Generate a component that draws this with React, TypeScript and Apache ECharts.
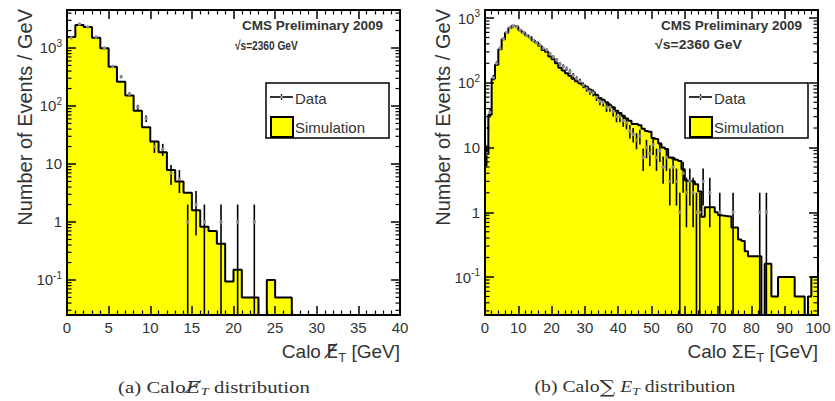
import React, { useEffect, useRef } from 'react';
import * as echarts from 'echarts';

// ---------- data (events / GeV, 1 GeV bins starting at 0) ----------
const metSimulation = [1550, 2500, 2300, 1500, 990, 475, 262, 151, 83, 43, 24.5, 16, 7.9, 5.0, 3.2, 1.6, 0.83, 0.7, 0.42, 0.094, 0.15, 0.05, 0.05, 0, 0.1, 0.05, 0.05];
const metData = [1500, 2600, 2300, 1550, 1000, 480, 320, 160, 95, 61, 20, 18, 7, 5.5, 1, 2, 1, 0, 1, 0, 1, 0, 1];

const setSimulation = [
  8, 32, 115, 190, 330, 470, 590, 700, 760, 740,
  650, 600, 540, 510, 450, 420, 370, 320, 300, 255,
  230, 200, 170, 155, 140, 128, 115, 106, 98, 92,
  86, 78, 72, 65, 58, 54, 50, 45, 42, 37,
  34, 31, 28, 26, 23, 23, 22, 19.5, 18, 17.5,
  14, 13.5, 11.5, 10, 9.5, 7, 6.8, 6.5, 6.2, 4.6,
  3.1, 3.0, 3.0, 2.7, 2.1, 0.85, 1.2, 1.2, 1.2, 1.0,
  0.9, 0.88, 0.87, 0.86, 0.58, 0.58, 0.38, 0.36, 0.25, 0.21,
  0.21, 0.21, 0.21, 0, 0.16, 0.16, 0.05, 0.05, 0.1, 0.1,
  0.1, 0.1, 0.1, 0.05, 0.05, 0.05, 0, 0.05, 0.1, 0.1,
];
const setData = [
  8, 35, 120, 200, 340, 480, 600, 710, 750, 730,
  650, 590, 540, 500, 450, 420, 380, 340, 320, 280,
  250, 225, 195, 180, 165, 150, 130, 115, 105, 92,
  82, 74, 70, 60, 52, 50, 42, 42, 36, 30,
  30, 26, 24, 18, 16, 13, 15, 7, 10, 8,
  11, 7, 9, 5, 7, 3, 5, 3, 1, 4,
  2, 3, 2, 1, 1, 3, 0, 2, 0, 0,
  1, 0, 0, 0, 1, 0, 0, 0, 0, 0,
  0, 0, 1, 0, 1, 0, 0, 0, 0, 0,
  0, 0, 0, 0, 0, 0, 0, 0, 0, 0,
];

const metXRange = [0, 40, 5];
const setXRange = [0, 100, 10];
const metYRange = [0.0249, 4520];
const setYRange = [0.0259, 1330];

const FONT = '"Liberation Sans", Arial, Helvetica, sans-serif';
const TEXT = '#333';
const YELLOW = '#ffff00';
const FLOOR = 1e-4;

function stepPoints(values: number[]) {
  const pts: number[][] = [[0, FLOOR]];
  values.forEach((v, i) => pts.push([i, v > 0 ? v : FLOOR]));
  const last = values[values.length - 1];
  pts.push([values.length, last > 0 ? last : FLOOR]);
  pts.push([values.length, FLOOR]);
  return pts;
}

function errorPoints(values: number[]) {
  const out: number[][] = [];
  values.forEach((v, i) => {
    if (v > 0) {
      const s = Math.sqrt(v);
      out.push([i + 0.5, v, v - s, v + s]);
    }
  });
  return out;
}

function minorLogValues(range: number[]) {
  const out: number[][] = [];
  for (let e = -3; e <= 4; e++) {
    for (let k = 2; k <= 9; k++) {
      const v = k * Math.pow(10, e);
      if (v > range[0] && v < range[1]) out.push([0, v]);
    }
  }
  return out;
}

function yLabel(v: number) {
  const l = Math.log10(v);
  const n = Math.round(l);
  if (Math.abs(l - n) > 0.01) return '';
  if (n === 0) return '1';
  if (n === 1) return '10';
  return '10{sup|' + n + '}';
}

function xAxes(gridIndex: number, r: number[]) {
  const base = {
    gridIndex,
    type: 'value',
    min: r[0],
    max: r[1],
    interval: r[2],
    z: 10,
    axisLine: { show: true, onZero: false, lineStyle: { color: '#000', width: 2 } },
    axisTick: { show: true, inside: true, length: 9, lineStyle: { color: '#000', width: 1.5 } },
    minorTick: { show: true, splitNumber: 5, length: 4.5, lineStyle: { color: '#000', width: 1.2 } },
    splitLine: { show: false },
    minorSplitLine: { show: false },
  };
  return [
    { ...base, position: 'bottom', axisLabel: { show: true, fontSize: 15, color: TEXT, fontFamily: FONT, margin: 5 } },
    { ...base, position: 'top', axisLabel: { show: false } },
  ];
}

function yAxes(gridIndex: number, r: number[]) {
  const base = {
    gridIndex,
    type: 'log',
    logBase: 10,
    min: r[0],
    max: r[1],
    z: 10,
    axisLine: { show: true, onZero: false, lineStyle: { color: '#000', width: 2 } },
    axisTick: { show: true, inside: true, length: 9, lineStyle: { color: '#000', width: 1.5 } },
    splitLine: { show: false },
  };
  return [
    {
      ...base,
      position: 'left',
      axisLabel: {
        show: true,
        fontSize: 15,
        color: TEXT,
        fontFamily: FONT,
        margin: 5,
        formatter: yLabel,
        rich: { sup: { fontSize: 10, color: TEXT, fontFamily: FONT, padding: [0, 0, 9, 0] } },
      },
    },
    { ...base, position: 'right', axisLabel: { show: false } },
  ];
}

function panelSeries(xi: number, yi: number, sim: number[], data: number[], xr: number[], yr: number[]) {
  return [
    {
      type: 'line',
      xAxisIndex: xi,
      yAxisIndex: yi,
      step: 'end',
      symbol: 'none',
      z: 2,
      silent: true,
      lineStyle: { color: '#000', width: 2 },
      areaStyle: { color: YELLOW, opacity: 1 },
      data: stepPoints(sim),
    },
    {
      type: 'custom',
      xAxisIndex: xi,
      yAxisIndex: yi,
      z: 3,
      clip: true,
      silent: true,
      data: errorPoints(data),
      renderItem: (params: any, api: any) => {
        const x = api.value(0);
        const v = api.value(1);
        const lo = Math.max(api.value(2), yr[0]);
        const hi = Math.min(api.value(3), yr[1]);
        const pt = api.coord([x, hi]);
        const pb = api.coord([x, lo]);
        const pc = api.coord([x, v]);
        return {
          type: 'group',
          children: [
            { type: 'line', shape: { x1: pt[0], y1: pt[1], x2: pb[0], y2: pb[1] }, style: { stroke: '#000', lineWidth: 1.6 } },
            { type: 'circle', shape: { cx: pc[0], cy: pc[1], r: 1.7 }, style: { fill: '#8c8c8c' } },
          ],
        };
      },
    },
    {
      type: 'custom',
      xAxisIndex: xi,
      yAxisIndex: yi,
      z: 4,
      clip: false,
      silent: true,
      data: minorLogValues(yr),
      renderItem: (params: any, api: any) => {
        const v = api.value(1);
        const p = api.coord([xr[0], v]);
        const q = api.coord([xr[1], v]);
        return {
          type: 'group',
          children: [
            { type: 'line', shape: { x1: p[0], y1: p[1], x2: p[0] + 4.5, y2: p[1] }, style: { stroke: '#000', lineWidth: 1.2 } },
            { type: 'line', shape: { x1: q[0] - 4.5, y1: q[1], x2: q[0], y2: q[1] }, style: { stroke: '#000', lineWidth: 1.2 } },
          ],
        };
      },
    },
  ];
}

function legend(left: number) {
  return [
    { type: 'rect', z: 20, shape: { x: left, y: 83, width: 123, height: 55 }, style: { fill: '#fff', stroke: '#000', lineWidth: 1.5 } },
    { type: 'line', z: 21, shape: { x1: left + 4, y1: 97, x2: left + 27, y2: 97 }, style: { stroke: '#000', lineWidth: 1.6 } },
    { type: 'line', z: 21, shape: { x1: left + 15.5, y1: 94, x2: left + 15.5, y2: 100 }, style: { stroke: '#000', lineWidth: 1.2 } },
    { type: 'circle', z: 22, shape: { cx: left + 15.5, cy: 97, r: 1.5 }, style: { fill: '#8c8c8c' } },
    { type: 'rect', z: 21, shape: { x: left + 5, y: 117, width: 22, height: 20 }, style: { fill: YELLOW, stroke: '#000', lineWidth: 2 } },
    { type: 'text', z: 21, x: left + 29, y: 98, style: { text: 'Data', fontSize: 15, fontFamily: FONT, fill: TEXT, align: 'left', verticalAlign: 'middle' } },
    { type: 'text', z: 21, x: left + 29, y: 127, style: { text: 'Simulation', fontSize: 15, fontFamily: FONT, fill: TEXT, align: 'left', verticalAlign: 'middle' } },
  ];
}

function cmsText(right: number, sqrtLeft: number, sqrtScale: number) {
  return [
    { type: 'text', z: 21, x: right, y: 25, style: { text: 'CMS Preliminary 2009', fontSize: 13.5, fontWeight: 'bold', fontFamily: FONT, fill: TEXT, align: 'right', verticalAlign: 'middle' } },
    { type: 'text', z: 21, x: sqrtLeft, y: 45, scaleX: sqrtScale, style: { text: '\u221As=2360 GeV', fontSize: 13, fontWeight: 'bold', fontFamily: FONT, fill: TEXT, align: 'left', verticalAlign: 'middle' } },
  ];
}

function axisTitles(yTitleX: number, xTitleRight: number, xTitle: string) {
  return [
    { type: 'text', z: 21, x: yTitleX, y: 9, rotation: Math.PI / 2, style: { text: 'Number of Events / GeV', fontSize: 20, fontFamily: FONT, fill: TEXT, align: 'right', verticalAlign: 'middle' } },
    {
      type: 'text', z: 21, x: xTitleRight, y: 351,
      style: {
        text: xTitle, fontSize: 19, fontFamily: FONT, fill: TEXT, align: 'right', verticalAlign: 'middle',
        rich: {
          e: { fontSize: 19, fontFamily: '"DejaVu Sans", sans-serif', fill: TEXT },
          sub: { fontSize: 13, fontFamily: FONT, fill: TEXT, padding: [13, 0, 0, 0] },
        },
      },
    },
  ];
}

function caption(cx: number, text: string, sx: number) {
  return {
    type: 'text', z: 21, x: cx, y: 387, scaleX: sx,
    style: {
      text, fontSize: 16, fontFamily: '"Liberation Serif", "Times New Roman", serif', fill: '#333', align: 'center', verticalAlign: 'middle',
      rich: {
        e: { fontSize: 16, fontFamily: '"DejaVu Serif", serif', fontStyle: 'italic', fill: '#333' },
        it: { fontSize: 16, fontFamily: '"Liberation Serif", serif', fontStyle: 'italic', fill: '#333' },
        big: { fontSize: 18, fontFamily: '"DejaVu Serif", serif', fill: '#333' },
        sub: { fontSize: 11, fontFamily: '"Liberation Serif", serif', fontStyle: 'italic', fill: '#333', padding: [9, 0, 0, 0] },
      },
    },
  };
}

export default function App() {
  const ref = useRef<HTMLDivElement>(null);
  useEffect(() => {
    if (!ref.current) return;
    const chart = echarts.init(ref.current, undefined, { renderer: 'svg' });
    const option: any = {
      animation: false,
      backgroundColor: '#fff',
      grid: [
        { left: 67, top: 10, width: 333, height: 305, show: false },
        { left: 485, top: 10, width: 333, height: 305, show: false },
      ],
      xAxis: [...xAxes(0, metXRange), ...xAxes(1, setXRange)],
      yAxis: [...yAxes(0, metYRange), ...yAxes(1, setYRange)],
      series: [
        ...panelSeries(0, 0, metSimulation, metData, metXRange, metYRange),
        ...panelSeries(2, 2, setSimulation, setData, setXRange, setYRange),
      ],
      graphic: [
        ...legend(266),
        ...legend(685),
        ...cmsText(383, 235, 0.78),
        ...cmsText(802, 655, 1.08),
        ...axisTitles(25, 400, 'Calo {e|E\u0338}{sub|T} [GeV]'),
        ...axisTitles(443, 818, 'Calo \u03A3E{sub|T} [GeV]'),
        caption(214, '(a) Calo{e|E\u0338}{sub|T} distribution', 1.3),
        caption(635, '(b) Calo{big|\u2211} {it|E}{sub|T} distribution', 1.23),
      ],
    };
    chart.setOption(option);
    return () => chart.dispose();
  }, []);
  return <div ref={ref} style={{ position: 'fixed', left: 0, top: 0, width: 835, height: 401, background: '#fff' }} />;
}
